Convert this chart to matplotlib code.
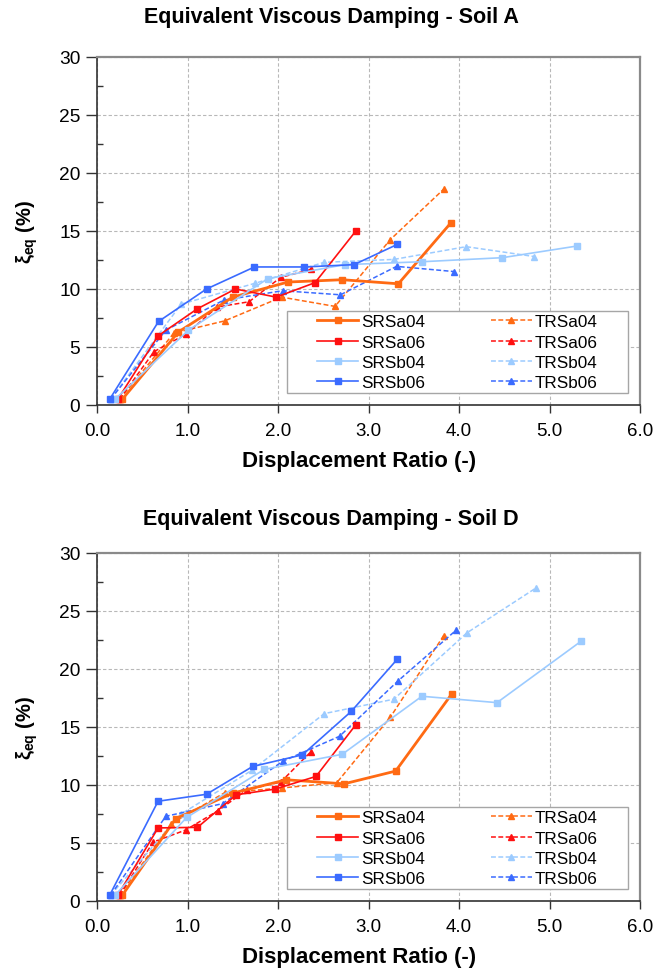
import matplotlib
matplotlib.use("Agg")
import matplotlib.pyplot as plt
from matplotlib.patches import Rectangle
from matplotlib.ticker import MultipleLocator, FormatStrFormatter

plt.rcParams['font.family'] = ['Liberation Sans', 'DejaVu Sans']
plt.rcParams['mathtext.fontset'] = 'custom'
plt.rcParams['mathtext.rm'] = 'Liberation Sans'
plt.rcParams['mathtext.bf'] = 'Liberation Sans:bold'

series_names = ["SRSa04", "SRSa06", "SRSb04", "SRSb06",
                "TRSa04", "TRSa06", "TRSb04", "TRSb06"]

# ---- Soil A ----
soilA_SRSa04_x = [0.28, 0.90, 1.50, 2.11, 2.71, 3.33, 3.91]
soilA_SRSa04_y = [0.5, 6.3, 9.3, 10.6, 10.8, 10.45, 15.7]
soilA_SRSa06_x = [0.23, 0.675, 1.11, 1.53, 1.98, 2.41, 2.86]
soilA_SRSa06_y = [0.5, 5.96, 8.3, 10.0, 9.3, 10.55, 15.0]
soilA_SRSb04_x = [0.20, 1.01, 1.89, 2.74, 3.59, 4.48, 5.30]
soilA_SRSb04_y = [0.5, 6.45, 10.9, 12.1, 12.35, 12.7, 13.7]
soilA_SRSb06_x = [0.14, 0.68, 1.21, 1.74, 2.29, 2.84, 3.32]
soilA_SRSb06_y = [0.5, 7.2, 10.0, 11.9, 11.9, 12.1, 13.85]
soilA_TRSa04_x = [0.25, 0.85, 1.41, 2.04, 2.63, 3.24, 3.83]
soilA_TRSa04_y = [0.5, 6.2, 7.25, 9.3, 8.5, 14.25, 18.6]
soilA_TRSa06_x = [0.25, 0.63, 0.98, 1.33, 1.68, 2.03, 2.37]
soilA_TRSa06_y = [0.5, 4.6, 6.1, 8.45, 8.9, 11.0, 11.7]
soilA_TRSb04_x = [0.15, 0.93, 1.75, 2.51, 3.28, 4.08, 4.83]
soilA_TRSb04_y = [0.5, 8.7, 10.5, 12.3, 12.55, 13.65, 12.8]
soilA_TRSb06_x = [0.15, 0.76, 1.40, 2.05, 2.69, 3.31, 3.95]
soilA_TRSb06_y = [0.5, 6.45, 9.04, 9.85, 9.5, 11.95, 11.5]

# ---- Soil D ----
soilD_SRSa04_x = [0.28, 0.87, 1.50, 2.09, 2.73, 3.30, 3.92]
soilD_SRSa04_y = [0.5, 7.1, 9.3, 10.45, 10.1, 11.2, 17.85]
soilD_SRSa06_x = [0.23, 0.675, 1.11, 1.54, 1.97, 2.42, 2.86]
soilD_SRSa06_y = [0.5, 6.3, 6.35, 9.16, 9.65, 10.74, 15.2]
soilD_SRSb04_x = [0.20, 0.99, 1.85, 2.71, 3.59, 4.42, 5.35]
soilD_SRSb04_y = [0.5, 7.2, 11.35, 12.65, 17.65, 17.1, 22.4]
soilD_SRSb06_x = [0.14, 0.675, 1.21, 1.72, 2.27, 2.81, 3.32]
soilD_SRSb06_y = [0.5, 8.6, 9.2, 11.6, 12.6, 16.35, 20.86]
soilD_TRSa04_x = [0.25, 0.82, 1.41, 2.04, 2.65, 3.24, 3.83]
soilD_TRSa04_y = [0.5, 6.67, 9.33, 9.74, 10.2, 15.83, 22.87]
soilD_TRSa06_x = [0.25, 0.62, 0.98, 1.34, 1.66, 2.03, 2.36]
soilD_TRSa06_y = [0.5, 5.08, 6.12, 7.8, 9.6, 10.25, 12.84]
soilD_TRSb04_x = [0.15, 0.93, 1.71, 2.51, 3.28, 4.09, 4.85]
soilD_TRSb04_y = [0.5, 7.5, 11.26, 16.15, 17.4, 23.13, 26.98]
soilD_TRSb06_x = [0.15, 0.76, 1.39, 2.05, 2.68, 3.33, 3.97]
soilD_TRSb06_y = [0.5, 7.3, 8.4, 12.04, 14.2, 19.0, 23.36]

soilA = {
    "SRSa04": (soilA_SRSa04_x, soilA_SRSa04_y), "SRSa06": (soilA_SRSa06_x, soilA_SRSa06_y),
    "SRSb04": (soilA_SRSb04_x, soilA_SRSb04_y), "SRSb06": (soilA_SRSb06_x, soilA_SRSb06_y),
    "TRSa04": (soilA_TRSa04_x, soilA_TRSa04_y), "TRSa06": (soilA_TRSa06_x, soilA_TRSa06_y),
    "TRSb04": (soilA_TRSb04_x, soilA_TRSb04_y), "TRSb06": (soilA_TRSb06_x, soilA_TRSb06_y),
}
soilD = {
    "SRSa04": (soilD_SRSa04_x, soilD_SRSa04_y), "SRSa06": (soilD_SRSa06_x, soilD_SRSa06_y),
    "SRSb04": (soilD_SRSb04_x, soilD_SRSb04_y), "SRSb06": (soilD_SRSb06_x, soilD_SRSb06_y),
    "TRSa04": (soilD_TRSa04_x, soilD_TRSa04_y), "TRSa06": (soilD_TRSa06_x, soilD_TRSa06_y),
    "TRSb04": (soilD_TRSb04_x, soilD_TRSb04_y), "TRSb06": (soilD_TRSb06_x, soilD_TRSb06_y),
}

colors = {"a04": "#FF6A13", "a06": "#FF1010", "b04": "#9CCBFF", "b06": "#3A6BFF"}


def style(name):
    key = name[-3:]
    c = colors[key]
    if name.startswith("SR"):
        lw = 2.0 if key == "a04" else 1.2
        return dict(color=c, lw=lw, ls="-", marker="s", ms=5.0, mec=c, mfc=c)
    return dict(color=c, lw=1.1, ls=(0, (3.2, 1.6)), marker="^", ms=4.2, mec=c, mfc=c)


def draw(ax, data, title, title_y):
    order = ["TRSa04", "TRSa06", "TRSb04", "TRSb06", "SRSa04", "SRSa06", "SRSb04", "SRSb06"]
    handles = {}
    for name in order:
        x, y = data[name]
        h, = ax.plot(x, y, label=name, zorder=3, **style(name))
        handles[name] = h
    ax.set_xlim(0, 6)
    ax.set_ylim(0, 30)
    ax.xaxis.set_major_locator(MultipleLocator(1.0))
    ax.xaxis.set_major_formatter(FormatStrFormatter("%.1f"))
    ax.yaxis.set_major_locator(MultipleLocator(5))
    ax.yaxis.set_minor_locator(MultipleLocator(2.5))
    ax.grid(True, which="major", color="#b8b8b8", ls=(0, (3, 2)), lw=0.8, zorder=0)
    ax.tick_params(axis="x", which="major", direction="out", length=6, width=1,
                   labelsize=13.5, pad=6, color="#333333")
    ax.tick_params(axis="y", which="major", direction="out", length=8, width=1,
                   labelsize=13.8, pad=4, color="#333333")
    ax.tick_params(axis="y", which="minor", direction="in", length=4, width=1, color="#333333")
    for s in ("left", "bottom"):
        ax.spines[s].set_color("#333333")
        ax.spines[s].set_linewidth(1.2)
    for s in ("top", "right"):
        ax.spines[s].set_color("#8a8a8a")
        ax.spines[s].set_linewidth(1.6)
    ax.set_xlabel("Displacement Ratio (-)", fontsize=16, fontweight="bold")
    ax.xaxis.set_label_coords(0.4825, -0.128)
    ax.set_ylabel(r"ξ$_{\mathbf{eq}}$ (%)", fontsize=14.5, fontweight="bold", labelpad=14)

    # legend box
    box = Rectangle((0.35, 0.034), 0.628, 0.236, transform=ax.transAxes,
                    facecolor="white", edgecolor="#a6a6a6", lw=1.0, zorder=5)
    ax.add_patch(box)
    leg_order = ["SRSa04", "SRSa06", "SRSb04", "SRSb06", "TRSa04", "TRSa06", "TRSb04", "TRSb06"]
    leg = ax.legend([handles[n] for n in leg_order], leg_order, ncol=2, frameon=False,
                    loc="center", bbox_to_anchor=(0.664, 0.152), fontsize=12.3,
                    handlelength=2.4, handletextpad=0.2, columnspacing=3.8,
                    labelspacing=0.3, borderpad=0.2)
    leg.set_zorder(6)
    fig.text(0.505, title_y, title, ha="center", va="center", fontsize=15.5, fontweight="bold")


fig = plt.figure(figsize=(6.56, 9.70), dpi=100)
axA = fig.add_axes([97 / 656, 1 - 406 / 970, 543 / 656, 348 / 970])
axD = fig.add_axes([97 / 656, 1 - 902 / 970, 543 / 656, 348 / 970])
draw(axA, soilA, "Equivalent Viscous Damping - Soil A", 1 - 17 / 970)
draw(axD, soilD, "Equivalent Viscous Damping - Soil D", 1 - 519 / 970)

fig.savefig("out.png", dpi=100)
